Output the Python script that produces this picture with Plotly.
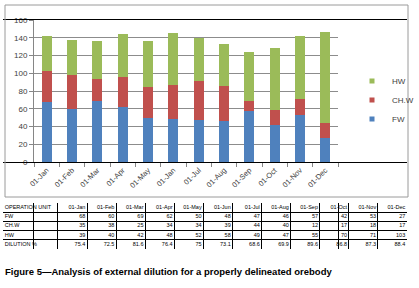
import plotly.graph_objects as go

chart_labels = ["01-Jan", "01-Feb", "01-Mar", "01-Apr", "01-May", "01-Jan",
                "01-Jul", "01-Aug", "01-Sep", "01-Oct", "01-Nov", "01-Dec"]
table_labels = ["01-Jan", "01-Feb", "01-Mar", "01-Apr", "01-May", "01-Jun",
                "01-Jul", "01-Aug", "01-Sep", "01-Oct", "01-Nov", "01-Dec"]
fw = [68, 60, 69, 62, 50, 48, 47, 46, 57, 42, 53, 27]
chw = [35, 38, 25, 34, 34, 39, 44, 40, 12, 17, 18, 17]
hw = [39, 40, 42, 48, 52, 58, 49, 47, 55, 70, 71, 103]
dilution = [75.4, 72.5, 81.6, 76.4, 75, 73.1, 68.6, 69.9, 89.6, 86.8, 87.3, 88.4]
row_names = ["FW", "CH.W", "HW", "DILUTION %"]
header_first = "OPERATION UNIT"

W, H = 419, 288
def px(x): return x / W
def py(y): return 1 - y / H

series = [("FW", fw, "#4F81BD"), ("CH.W", chw, "#C0504D"), ("HW", hw, "#9BBB59")]
xs = list(range(len(chart_labels)))
fig = go.Figure()
for name, vals, col in series:
    fig.add_trace(go.Bar(x=xs, y=vals, name=name, marker=dict(color=col, line=dict(width=0)),
                         width=0.4, showlegend=False))
# legend entries
for name, vals, col in series:
    fig.add_trace(go.Scatter(x=[None], y=[None], mode="markers", name=name,
                             marker=dict(symbol="square", size=5, color=col)))

# ---- data table drawn on its own axes ----
first_w = 1.89  # first column width in month-column units
rows = [[header_first] + table_labels]
for r, vals in enumerate([fw, chw, hw, dilution]):
    rows.append([row_names[r]] + [str(v) for v in vals])
tfont = dict(family="Liberation Sans", size=5.5, color="black")
for r, row in enumerate(rows):
    fig.add_trace(go.Scatter(x=[-first_w + 0.06], y=[r + 0.5], mode="text", text=[row[0]],
                             textposition="middle right", textfont=tfont,
                             xaxis="x2", yaxis="y2", showlegend=False, hoverinfo="skip"))
    fig.add_trace(go.Scatter(x=[i + 1 - 0.06 for i in range(12)], y=[r + 0.5] * 12,
                             mode="text", text=row[1:], textposition="middle left",
                             textfont=tfont, xaxis="x2", yaxis="y2", showlegend=False,
                             hoverinfo="skip"))

fig.update_layout(
    width=W, height=H, margin=dict(l=0, r=0, t=0, b=0, autoexpand=False),
    paper_bgcolor="white", plot_bgcolor="white",
    barmode="stack", showlegend=True,
    font=dict(family="Liberation Sans", size=8, color="#404040"),
    xaxis=dict(domain=[px(34), px(338)], range=[-0.5, 11.5], automargin=False,
               tickmode="array", tickvals=xs, ticktext=chart_labels, tickangle=-45,
               ticks="", showline=True, linecolor="#868686", linewidth=1,
               tickfont=dict(size=7.5, color="#404040"), showgrid=False,
               minor=dict(tickmode="array", tickvals=[i + 0.5 for i in range(-1, 12)],
                          ticks="outside", ticklen=4, tickcolor="#868686", showgrid=False)),
    yaxis=dict(domain=[py(162), py(20)], range=[0, 160], tickvals=list(range(0, 161, 20)),
               automargin=False,
               showline=True, linecolor="#868686", linewidth=1, ticks="outside", ticklen=4,
               tickcolor="#868686", showgrid=True, gridcolor="#8c8c8c", gridwidth=1,
               zeroline=False, tickfont=dict(size=8, color="#404040")),
    xaxis2=dict(domain=[px(3), px(407)], range=[-first_w, 12], automargin=False,
                tickmode="array", tickvals=[0] + list(range(1, 12)), showticklabels=False,
                ticks="", showgrid=True, gridcolor="black", gridwidth=1, zeroline=False,
                showline=True, mirror=True, linecolor="black", linewidth=1, fixedrange=True),
    yaxis2=dict(domain=[py(249), py(203)], range=[5, 0], automargin=False,
                tickmode="array", tickvals=[1, 2, 3, 4], showticklabels=False,
                ticks="", showgrid=True, gridcolor="black", gridwidth=1, zeroline=False,
                showline=True, mirror=True, linecolor="black", linewidth=1, fixedrange=True),
    legend=dict(x=px(352), y=py(100), xanchor="left", yanchor="middle",
                font=dict(size=8, color="#404040"), bgcolor="rgba(0,0,0,0)",
                tracegroupgap=0, traceorder="reversed"),
    shapes=[dict(type="rect", xref="paper", yref="paper", x0=px(5), x1=px(408),
                 y0=py(197), y1=py(5), line=dict(color="#9a9a9a", width=1))],
    annotations=[dict(text="<b>Figure 5—Analysis of external dilution for a properly delineated orebody</b>",
                      xref="paper", yref="paper", x=px(3), y=py(271), xanchor="left",
                      yanchor="middle", showarrow=False,
                      font=dict(family="Liberation Sans", size=9.5, color="black"))],
)
fig.write_html("out.html", config={"displayModeBar": False},
               post_script="document.body.style.margin='0';document.body.style.overflow='hidden';")
